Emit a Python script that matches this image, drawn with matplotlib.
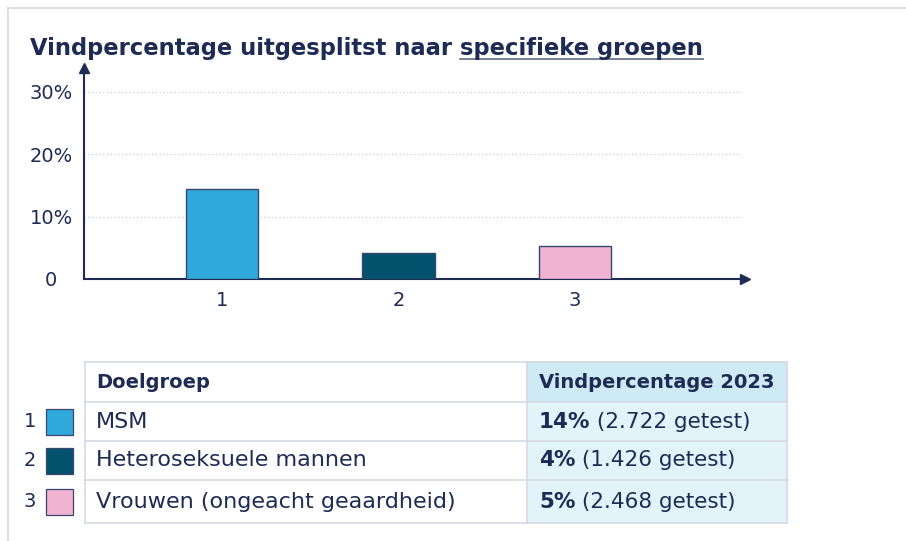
import matplotlib
matplotlib.use("Agg")
import matplotlib.pyplot as plt
from matplotlib.patches import Rectangle

# ---- data ----
categories = ["1", "2", "3"]
values = [14.4, 4.2, 5.3]
bar_colors = ["#2fa9dc", "#03536e", "#f0b3d1"]
yticks = [0, 10, 20, 30]
ytick_labels = ["0", "10%", "20%", "30%"]
title_plain = "Vindpercentage uitgesplitst naar "
title_under = "specifieke groepen"
col_headers = ["Doelgroep", "Vindpercentage 2023"]
groups = ["MSM", "Heteroseksuele mannen", "Vrouwen (ongeacht geaardheid)"]
pct_bold = ["14%", "4%", "5%"]
pct_rest = [" (2.722 getest)", " (1.426 getest)", " (2.468 getest)"]

NAVY = "#1d2b55"
GRID = "#c8ccd6"
BORDER = "#d6d9e3"
FONT = "DejaVu Sans"

W, H = 906, 541
fig = plt.figure(figsize=(W / 100, H / 100), dpi=100)
fig.patch.set_facecolor("white")

def fx(px):
    return px / W

def fy(py):
    return 1 - py / H

# ---- overlay axes in pixel coordinates ----
ov = fig.add_axes([0, 0, 1, 1])
ov.set_xlim(0, W)
ov.set_ylim(H, 0)
ov.axis("off")
ov.set_zorder(0)

# card border
ov.plot([8, W], [8, 8], color=BORDER, lw=1.2)
ov.plot([8, 8], [8, H], color=BORDER, lw=1.2)

# title
t1 = ov.text(30, 48, title_plain, fontsize=16.25, fontweight="bold", color=NAVY,
             family=FONT, va="center", ha="left")
fig.canvas.draw()
bb = t1.get_window_extent()
x2 = bb.x1
t2 = ov.text(x2, 48, title_under, fontsize=16.25, fontweight="bold", color=NAVY,
             family=FONT, va="center", ha="left")
fig.canvas.draw()
bb2 = t2.get_window_extent()
ov.plot([bb2.x0, bb2.x1], [59, 59], color=NAVY, lw=1.2, alpha=0.7)

# ---- bar chart axes ----
ax_left, ax_right, ax_top, ax_bottom = 84, 745, 68, 279
ax = fig.add_axes([fx(ax_left), fy(ax_bottom), fx(ax_right - ax_left), (ax_bottom - ax_top) / H])
ax.set_facecolor("none")
xpos = [1, 2, 3]
ax.bar(xpos, values, width=0.41, color=bar_colors, edgecolor="#3a4670", linewidth=1.0, zorder=3)
ax.set_xlim(0.218, 3.963)
ax.set_ylim(0, 33.85)
ax.set_yticks(yticks)
ax.set_yticklabels(ytick_labels)
ax.set_xticks(xpos)
ax.set_xticklabels(categories)
ax.tick_params(length=0, labelsize=14, labelcolor=NAVY)
ax.tick_params(axis="y", pad=23.5)
ax.tick_params(axis="x", pad=9)
for lab in ax.get_xticklabels() + ax.get_yticklabels():
    lab.set_family(FONT)
for lab in ax.get_yticklabels():
    lab.set_horizontalalignment("center")
for s in ["top", "right"]:
    ax.spines[s].set_visible(False)
for s in ["left", "bottom"]:
    ax.spines[s].set_color(NAVY)
    ax.spines[s].set_linewidth(1.5)
for yv in yticks[1:]:
    ax.plot([0.218, 3.94], [yv, yv], color=GRID, lw=0.9, ls=(0, (1, 2)), zorder=1)
ax.plot([0], [1], marker="^", color=NAVY, markersize=7, transform=ax.transAxes, clip_on=False)
ax.plot([1], [0], marker=">", color=NAVY, markersize=7, transform=ax.transAxes, clip_on=False)

# ---- table ----
tx0, tdiv, tx1 = 85, 527, 787
row_edges = [362, 402, 441, 480, 523]
ov.add_patch(Rectangle((tdiv, row_edges[0]), tx1 - tdiv, row_edges[1] - row_edges[0],
                       facecolor="#cdeaf5", edgecolor="none", zorder=1))
ov.add_patch(Rectangle((tdiv, row_edges[1]), tx1 - tdiv, row_edges[-1] - row_edges[1],
                       facecolor="#e3f3fa", edgecolor="none", zorder=1))
for ye in row_edges:
    ov.plot([tx0, tx1], [ye, ye], color=BORDER, lw=1.2, zorder=2)
for xe in [tx0, tdiv, tx1]:
    ov.plot([xe, xe], [row_edges[0], row_edges[-1]], color=BORDER, lw=1.2, zorder=2)

hy = (row_edges[0] + row_edges[1]) / 2
ov.text(96, hy, col_headers[0], fontsize=14, fontweight="bold", color=NAVY, family=FONT,
        va="center", ha="left", zorder=3)
ov.text(539, hy, col_headers[1], fontsize=14, fontweight="bold", color=NAVY, family=FONT,
        va="center", ha="left", zorder=3)

for i, g in enumerate(groups):
    cy = (row_edges[i + 1] + row_edges[i + 2]) / 2
    ov.text(96, cy, g, fontsize=16, color=NAVY, family=FONT, va="center", ha="left", zorder=3)
    tb = ov.text(539, cy, pct_bold[i], fontsize=15.5, fontweight="bold", color=NAVY, family=FONT,
                 va="center", ha="left", zorder=3)
    fig.canvas.draw()
    bbx = tb.get_window_extent()
    ov.text(bbx.x1, cy, pct_rest[i], fontsize=15.5, color=NAVY, family=FONT,
            va="center", ha="left", zorder=3)
    ov.add_patch(Rectangle((46, cy - 13), 27, 26, facecolor=bar_colors[i],
                           edgecolor="#3a4670", lw=0.9, zorder=3))
    ov.text(36, cy, categories[i], fontsize=14, color=NAVY, family=FONT,
            va="center", ha="right", zorder=3)

fig.savefig("out.png", dpi=100)
